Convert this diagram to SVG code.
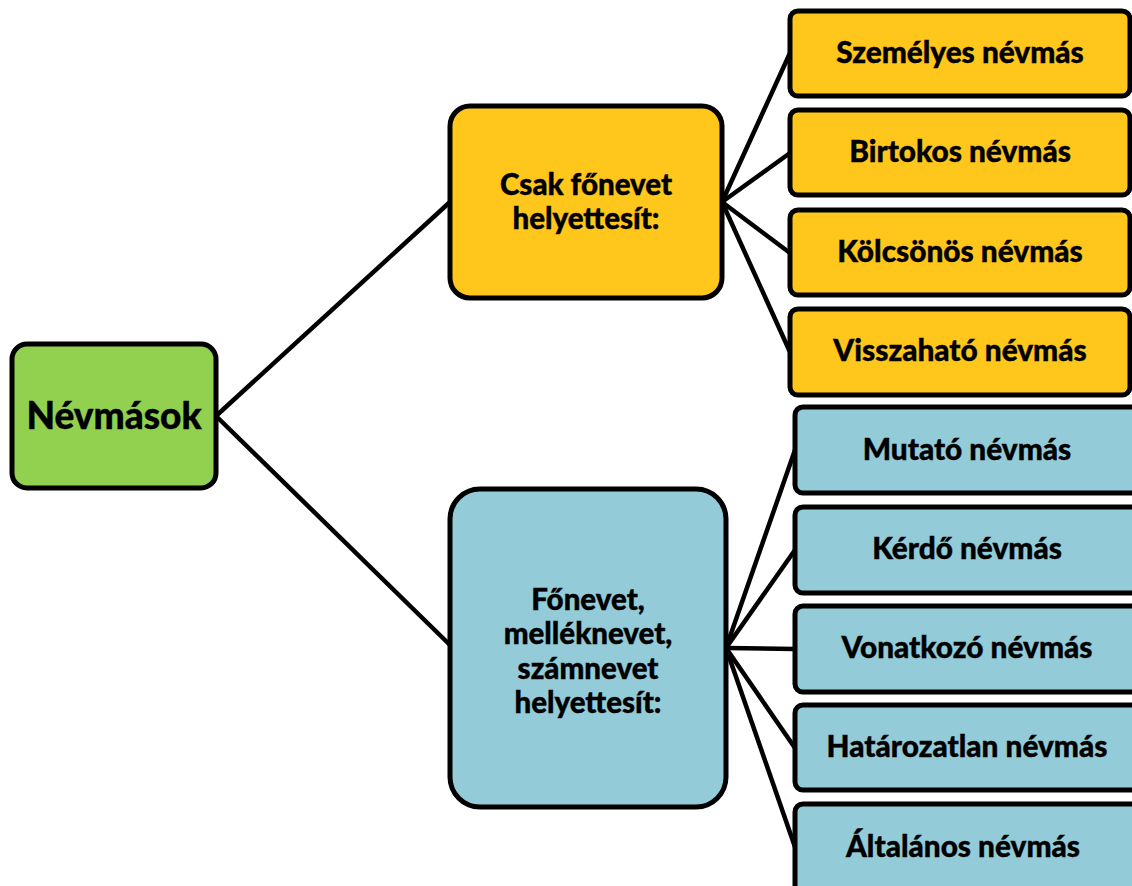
<svg xmlns="http://www.w3.org/2000/svg" width="1132" height="886" viewBox="0 0 1132 886">
<style>
.box{stroke:#000;stroke-width:5}
.g{fill:#92D050}
.y{fill:#FFC61B}
.b{fill:#93CBD8}
text{font-family:Lato,"Liberation Sans",sans-serif;font-weight:900;fill:#000;text-anchor:middle;stroke:#000;stroke-width:0.4}
.t{font-size:29.8px}
.r{font-size:37px}
.m{font-size:29.5px}
.c{stroke:#000;stroke-width:4.5;fill:none}
</style>
<g id="connectors">
<line class="c" x1="216" y1="416" x2="450" y2="202"/>
<line class="c" x1="216" y1="416" x2="450" y2="645"/>
<line class="c" x1="722" y1="202" x2="790" y2="53"/>
<line class="c" x1="722" y1="202" x2="790" y2="153"/>
<line class="c" x1="722" y1="202" x2="790" y2="253"/>
<line class="c" x1="722" y1="202" x2="790" y2="352"/>
<line class="c" x1="726" y1="648" x2="795" y2="450"/>
<line class="c" x1="726" y1="648" x2="795" y2="550"/>
<line class="c" x1="726" y1="648" x2="795" y2="649"/>
<line class="c" x1="726" y1="648" x2="795" y2="748"/>
<line class="c" x1="726" y1="648" x2="795" y2="847"/>
</g>
<g id="root">
<rect class="box g" x="12" y="344" width="204" height="144" rx="15"/>
<text class="r" x="114" y="429">Névmások</text>
</g>
<g id="mid-yellow">
<rect class="box y" x="450" y="106" width="272" height="192" rx="20"/>
<text class="m" x="586" y="195">Csak főnevet</text>
<text class="m" x="586" y="229">helyettesít:</text>
</g>
<g id="mid-blue">
<rect class="box b" x="450" y="489" width="276" height="318" rx="30"/>
<text class="m" x="588" y="610">Főnevet,</text>
<text class="m" x="588" y="644">melléknevet,</text>
<text class="m" x="588" y="679">számnevet</text>
<text class="m" x="588" y="713">helyettesít:</text>
</g>
<g id="leaf-szemelyes">
<rect class="box y" x="790" y="11" width="340" height="85" rx="8"/>
<text class="t" x="960" y="63">Személyes névmás</text>
</g>
<g id="leaf-birtokos">
<rect class="box y" x="790" y="110" width="340" height="85" rx="8"/>
<text class="t" x="960" y="162">Birtokos névmás</text>
</g>
<g id="leaf-kolcsonos">
<rect class="box y" x="790" y="210" width="340" height="85" rx="8"/>
<text class="t" x="960" y="262">Kölcsönös névmás</text>
</g>
<g id="leaf-visszahato">
<rect class="box y" x="790" y="309" width="340" height="86" rx="8"/>
<text class="t" x="960" y="361">Visszaható névmás</text>
</g>
<g id="leaf-mutato">
<rect class="box b" x="795" y="407" width="345" height="86" rx="8"/>
<text class="t" x="967" y="460">Mutató névmás</text>
</g>
<g id="leaf-kerdo">
<rect class="box b" x="795" y="507" width="345" height="86" rx="8"/>
<text class="t" x="967" y="559">Kérdő névmás</text>
</g>
<g id="leaf-vonatkozo">
<rect class="box b" x="795" y="606" width="345" height="86" rx="8"/>
<text class="t" x="967" y="658">Vonatkozó névmás</text>
</g>
<g id="leaf-hatarozatlan">
<rect class="box b" x="795" y="705" width="345" height="85" rx="8"/>
<text class="t" x="967" y="757">Határozatlan névmás</text>
</g>
<g id="leaf-altalanos">
<rect class="box b" x="795" y="804" width="345" height="100" rx="8"/>
<text class="t" x="963" y="857">Általános névmás</text>
</g>
</svg>
